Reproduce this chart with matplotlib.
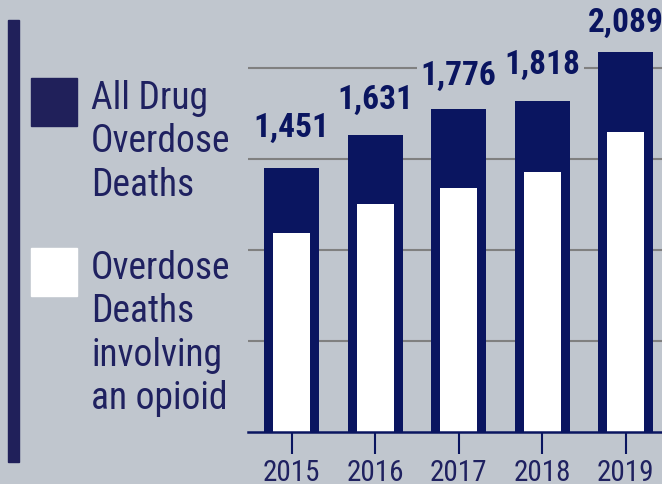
import matplotlib
matplotlib.use("Agg")
import matplotlib.pyplot as plt
from matplotlib import font_manager
from matplotlib.patches import Rectangle

years = ["2015", "2016", "2017", "2018", "2019"]
all_deaths = [1451, 1631, 1776, 1818, 2089]
opioid_deaths = [1093, 1253, 1341, 1429, 1648]
value_labels = ["1,451", "1,631", "1,776", "1,818", "2,089"]
label_gap_px = [31, 26, 24, 27, 20]

BG = "#c0c6ce"
NAVY = "#0a1560"
LEG = "#20205a"
TXT = "#1f2160"

names = {f.name for f in font_manager.fontManager.ttflist}
family = "DejaVu Sans"
for cand in ["Roboto Condensed", "Liberation Sans Narrow", "Roboto"]:
    if cand in names:
        family = cand
        break
plt.rcParams["font.family"] = [family, "DejaVu Sans"]

W, H = 662, 484
fig = plt.figure(figsize=(W / 100, H / 100), dpi=100, facecolor=BG)

# axes spans from x=248px to the right edge, baseline at y=432px
ax = fig.add_axes([248 / W, (H - 432) / H, 1 - 248 / W, 432 / H])
ax.set_facecolor(BG)
px_per_unit = 91.0 / 500
ax.set_ylim(0, 432 / px_per_unit)
spacing = 83.5
ax.set_xlim(-43.5 / spacing, -43.5 / spacing + 414 / spacing)

x = list(range(len(years)))
ax.bar(x, all_deaths, width=55 / spacing, color=NAVY, zorder=2)
ax.bar(x, opioid_deaths, width=37 / spacing, color="white", zorder=3,
       bottom=0)

for i, (v, lab) in enumerate(zip(all_deaths, value_labels)):
    ax.annotate(lab, (i, v), xytext=(0, label_gap_px[i] * 0.72),
                textcoords="offset points", ha="center", va="baseline",
                fontsize=24, fontweight="bold", color=NAVY, zorder=4,
                bbox=dict(boxstyle="square,pad=0.12", fc=BG, ec="none"))

ax.set_yticks([500, 1000, 1500, 2000])
ax.yaxis.grid(True, color="#808080", lw=1.5, zorder=0)
ax.tick_params(axis="y", left=False, labelleft=False)
ax.set_xticks(x)
ax.set_xticklabels(years)
ax.tick_params(axis="x", length=15.8, width=1.5, color=NAVY, pad=3.6,
               labelsize=21, labelcolor=TXT)
for s in ["top", "right", "left"]:
    ax.spines[s].set_visible(False)
ax.spines["bottom"].set_color(NAVY)
ax.spines["bottom"].set_linewidth(1.8)
ax.spines["bottom"].set_zorder(5)

# legend on the left
def px_rect(x0, y0, w, h, color):
    fig.patches.append(Rectangle((x0 / W, 1 - (y0 + h) / H), w / W, h / H,
                                 transform=fig.transFigure, color=color))

px_rect(8, 20, 10.5, 442, LEG)
px_rect(31, 78, 46, 48, LEG)
px_rect(31, 248, 46, 48, "white")
fig.text(91 / W, 1 - 80 / H, "All Drug\nOverdose\nDeaths", ha="left", va="top",
         fontsize=27, color=TXT, linespacing=1.22)
fig.text(91 / W, 1 - 250 / H, "Overdose\nDeaths\ninvolving\nan opioid",
         ha="left", va="top", fontsize=27, color=TXT, linespacing=1.22)

fig.savefig("out.png", dpi=100, facecolor=BG)
